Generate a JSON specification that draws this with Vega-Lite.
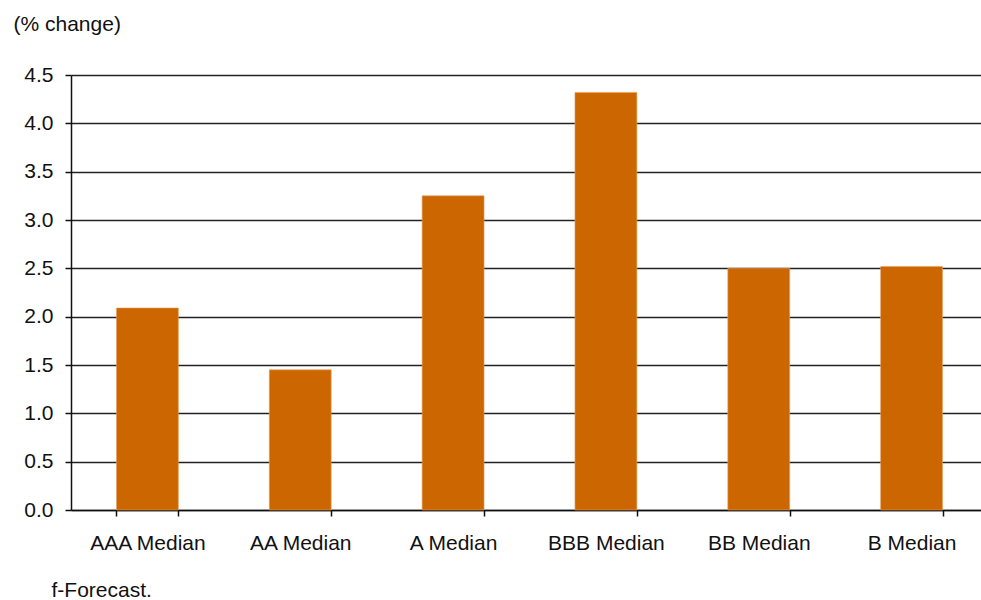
{
  "$schema": "https://vega.github.io/schema/vega-lite/v6.json",
  "autosize": "none",
  "width": 910,
  "height": 435,
  "padding": {"left": 71, "top": 75, "right": 0, "bottom": 90},
  "background": "white",
  "config": {
    "view": {"stroke": null},
    "font": "Liberation Sans"
  },
  "data": {
    "values": [
      {"category": "AAA Median", "value": 2.09},
      {"category": "AA Median", "value": 1.45},
      {"category": "A Median", "value": 3.25},
      {"category": "BBB Median", "value": 4.32},
      {"category": "BB Median", "value": 2.50},
      {"category": "B Median", "value": 2.52}
    ]
  },
  "mark": {"type": "bar", "color": "#CC6600", "stroke": "#E8A060", "strokeWidth": 0.6},
  "encoding": {
    "x": {
      "field": "category",
      "type": "nominal",
      "sort": null,
      "scale": {"range": [0, 917], "paddingInner": 0.595, "paddingOuter": 0.2975},
      "axis": {
        "title": "f-Forecast.",
        "titleFont": "Liberation Sans",
        "titleFontSize": 21,
        "titleFontWeight": "normal",
        "titleColor": "#111",
        "titleAnchor": "start",
        "titleAlign": "left",
        "titleBaseline": "alphabetic",
        "titleX": -20,
        "titleY": 86,
        "labelAngle": 0,
        "labelFontSize": 21,
        "labelColor": "#111",
        "labelPadding": 16,
        "tickBand": "extent",
        "tickSize": 6,
        "tickColor": "#111",
        "tickWidth": 1.5,
        "domainColor": "#111",
        "domainWidth": 1.5,
        "grid": false
      }
    },
    "y": {
      "field": "value",
      "type": "quantitative",
      "scale": {"domain": [0, 4.5], "nice": false},
      "axis": {
        "title": "(% change)",
        "titleFontSize": 21,
        "titleFontWeight": "normal",
        "titleColor": "#111",
        "titleAngle": 0,
        "titleAlign": "left",
        "titleBaseline": "alphabetic",
        "titleX": -58,
        "titleY": -45,
        "values": [0, 0.5, 1, 1.5, 2, 2.5, 3, 3.5, 4, 4.5],
        "format": ".1f",
        "labelFontSize": 21,
        "labelColor": "#111",
        "labelPadding": 12,
        "tickSize": 6,
        "tickColor": "#111",
        "tickWidth": 1.5,
        "domainColor": "#111",
        "domainWidth": 1.5,
        "grid": true,
        "gridColor": "#222",
        "gridWidth": 1.6
      }
    }
  }
}
